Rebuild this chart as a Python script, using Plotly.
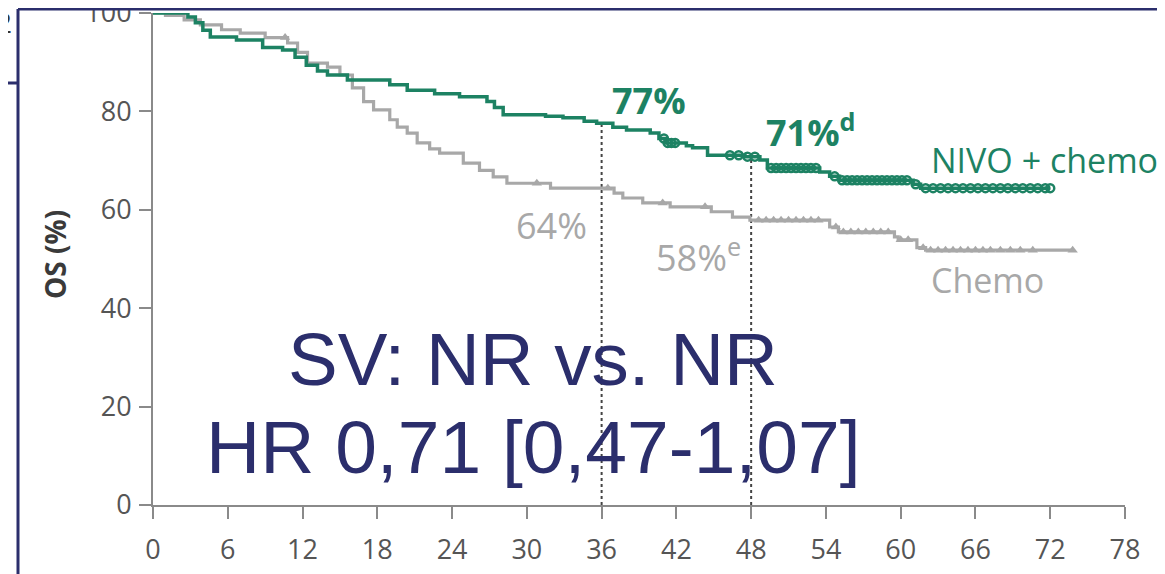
import numpy as np
import plotly.graph_objects as go

# ---- data ----
nivo_t = [0, 2.8, 3.4, 4.0, 4.6, 6.7, 8.8, 10.4, 11.4, 12.3, 13.2, 14.0, 15.6, 19.0, 20.4, 22.6,
          24.6, 26.8, 27.4, 28.1, 31.5, 32.9, 34.6, 35.6, 36.9, 38.0, 39.9, 40.6, 41.2, 42.8, 43.3,
          44.5, 47.5, 48.7, 49.3, 53.5, 54.3, 55.1, 61.0, 61.6, 72.0]
nivo_s = [100, 99.2, 98.0, 96.5, 95.1, 94.5, 93.0, 92.5, 91.0, 89.4, 88.2, 87.4, 86.4, 85.4, 84.3, 83.6,
          83.0, 82.0, 80.8, 79.3, 79.0, 78.7, 78.0, 77.6, 76.8, 76.2, 75.6, 74.5, 73.6, 73.0, 72.6,
          71.1, 70.8, 70.1, 68.5, 67.7, 66.8, 66.0, 65.2, 64.4, 64.4]
chemo_t = [0, 1.0, 2.5, 3.8, 5.5, 7.0, 9.0, 10.8, 11.6, 12.4, 14.0, 15.0, 16.0, 16.9, 17.7, 19.0,
           19.6, 20.4, 21.2, 22.2, 23.0, 24.9, 26.2, 27.3, 28.4, 31.9, 37.0, 37.7, 39.3, 41.5, 44.8,
           46.5, 47.9, 54.3, 55.0, 59.5, 59.8, 61.3, 62.0, 73.8]
chemo_s = [100, 99.5, 98.6, 97.6, 96.6, 95.9, 95.0, 93.9, 92.0, 89.8, 89.0, 87.4, 84.8, 82.0, 80.3, 78.3,
           76.8, 75.6, 73.6, 72.4, 71.5, 69.5, 68.0, 66.7, 65.4, 64.4, 63.4, 62.4, 61.4, 60.6, 59.6,
           58.5, 57.9, 56.5, 55.5, 54.5, 53.9, 52.3, 51.8, 51.8]
nivo_cens = [41.0, 41.3, 41.6, 41.9, 46.3, 47.0, 47.7, 48.3, 49.6, 50.0, 50.4, 50.8, 51.2, 51.6, 52.0,
             52.4, 52.8, 53.2, 54.7, 55.3, 55.7, 56.1, 56.5, 56.9, 57.3, 57.7, 58.1, 58.5, 58.9, 59.3,
             59.7, 60.1, 60.5, 61.2, 62.0, 62.6, 63.2, 63.8, 64.4, 65.0, 65.6, 66.2, 66.8, 67.4, 68.0,
             68.6, 69.2, 69.8, 70.4, 71.0, 71.6, 72.0]
chemo_cens = [10.6, 30.8, 36.5, 40.9, 44.3, 48.6, 49.2, 49.8, 50.4, 51.0, 51.6, 52.2, 52.8, 53.4, 54.8,
              55.4, 56.0, 56.6, 57.2, 57.8, 58.4, 59.0, 60.0, 60.6, 61.8, 62.4, 63.0, 63.6, 64.2, 64.8,
              65.4, 66.0, 66.6, 67.2, 68.0, 68.8, 69.6, 70.6, 73.8]
x_ticks = [0, 6, 12, 18, 24, 30, 36, 42, 48, 54, 60, 66, 72, 78]
y_ticks = [0, 20, 40, 60, 80, 100]
landmarks = [36, 48]
series_names = ["NIVO + chemo", "Chemo"]
nivo_labels = ["77%", "71%<sup>d</sup>"]
chemo_labels = ["64%", "58%<sup>e</sup>"]
summary_lines = ["SV: NR vs. NR", "HR 0,71 [0,47-1,07]"]

GREEN = "#1d8263"
GREY = "#a8a8a8"
NAVY = "#2b2e6c"
AXIS = "#8a8a8a"


def surv_at(times, surv, t):
    idx = np.searchsorted(np.array(times), np.array(t), side="right") - 1
    return np.array(surv)[idx]


fig = go.Figure()
fig.add_trace(go.Scatter(x=chemo_t, y=chemo_s, mode="lines", line=dict(color=GREY, width=3.2, shape="hv"),
                         cliponaxis=False, showlegend=False))
fig.add_trace(go.Scatter(x=chemo_cens, y=surv_at(chemo_t, chemo_s, chemo_cens), mode="markers",
                         marker=dict(symbol="triangle-up", size=9, color=GREY), cliponaxis=False,
                         showlegend=False))
fig.add_trace(go.Scatter(x=nivo_t, y=nivo_s, mode="lines", line=dict(color=GREEN, width=3.5, shape="hv"),
                         cliponaxis=False, showlegend=False))
fig.add_trace(go.Scatter(x=nivo_cens, y=surv_at(nivo_t, nivo_s, nivo_cens), mode="markers",
                         marker=dict(symbol="circle-open", size=8, color=GREEN, line=dict(width=2.5)),
                         cliponaxis=False, showlegend=False))

# landmark dotted lines
for lm in landmarks:
    top = float(surv_at(nivo_t, nivo_s, [lm])[0])
    fig.add_shape(type="line", x0=lm, x1=lm, y0=0, y1=top, xref="x", yref="y",
                  line=dict(color="#444444", width=2, dash="dot"), layer="below")

txt_font = "Open Sans, Noto Sans, sans-serif"
ann = [
    dict(x=39.8, y=82.3, text=nivo_labels[0], font=dict(size=36, color=GREEN, family=txt_font, weight="bold")),
    dict(x=52.8, y=76.2, text=nivo_labels[1], font=dict(size=36, color=GREEN, family=txt_font, weight="bold")),
    dict(x=32.0, y=56.9, text=chemo_labels[0], font=dict(size=36, color=GREY, family=txt_font)),
    dict(x=43.8, y=50.8, text=chemo_labels[1], font=dict(size=36, color=GREY, family=txt_font)),
    dict(x=62.3, y=70.1, text=series_names[0], xanchor="left", font=dict(size=34, color=GREEN, family=txt_font)),
    dict(x=62.3, y=45.7, text=series_names[1], xanchor="left", font=dict(size=34, color=GREY, family=txt_font)),
    dict(x=30.5, y=29.5, text=summary_lines[0], font=dict(size=74.5, color=NAVY, family="Liberation Sans, Arial")),
    dict(x=30.5, y=11.8, text=summary_lines[1], font=dict(size=75, color=NAVY, family="Liberation Sans, Arial")),
]
for a in ann:
    a.setdefault("xanchor", "center")
    fig.add_annotation(xref="x", yref="y", showarrow=False, yanchor="middle", **a)

# the page adds an 8 px body margin; plot area is placed so it lands at screen x 153..1125, y 13..505
OFF = 8
L, T, W, H = 153 - OFF, 13 - OFF, 972, 492


def px(xp):
    return (xp - 153) / W


def py(yp):
    return (505 - yp) / H


# y axis title
fig.add_annotation(xref="paper", yref="paper", x=px(55), y=py(255), text="OS (%)",
                   textangle=-90, showarrow=False, xanchor="center", yanchor="middle",
                   font=dict(size=28, color="#3a3a3a", family=txt_font, weight="bold"))

# slide frame pieces
fig.add_shape(type="rect", xref="paper", yref="paper", x0=px(-10), x1=px(1180), y0=py(9), y1=py(-10),
              fillcolor="white", line=dict(width=0), layer="above")
fig.add_annotation(xref="paper", yref="paper", x=px(4), y=py(22), text="2", showarrow=False,
                   xanchor="center", yanchor="middle", font=dict(size=28, color="#333333", family=txt_font))
frame = [(18, 9, 18, 590), (18, 9, 1180, 9), (-10, 83, 18, 83), (86, -10, 86, 9)]
for x0, y0, x1, y1 in frame:
    fig.add_shape(type="line", xref="paper", yref="paper", x0=px(x0), y0=py(y0), x1=px(x1), y1=py(y1),
                  line=dict(color=NAVY, width=3), layer="above")

fig.update_xaxes(range=[0, 78], tickvals=x_ticks, showline=True, linecolor=AXIS, linewidth=2,
                 ticks="outside", ticklen=12, tickwidth=2, tickcolor=AXIS, showgrid=False, zeroline=False,
                 tickfont=dict(size=27, color="#555555", family=txt_font), ticklabelstandoff=8,
                 automargin=False, ticklabeloverflow="allow")
fig.update_yaxes(range=[0, 100], tickvals=y_ticks, showline=True, linecolor=AXIS, linewidth=2,
                 ticks="outside", ticklen=12, tickwidth=2, tickcolor=AXIS, showgrid=False, zeroline=False,
                 tickfont=dict(size=27, color="#555555", family=txt_font), ticklabelstandoff=2,
                 automargin=False, ticklabeloverflow="allow")
fig.update_layout(width=1165, height=574,
                  margin=dict(l=L, r=1165 - L - W, t=T, b=574 - T - H, autoexpand=False),
                  plot_bgcolor="white", paper_bgcolor="white", showlegend=False)

fig.write_html("out.html")
